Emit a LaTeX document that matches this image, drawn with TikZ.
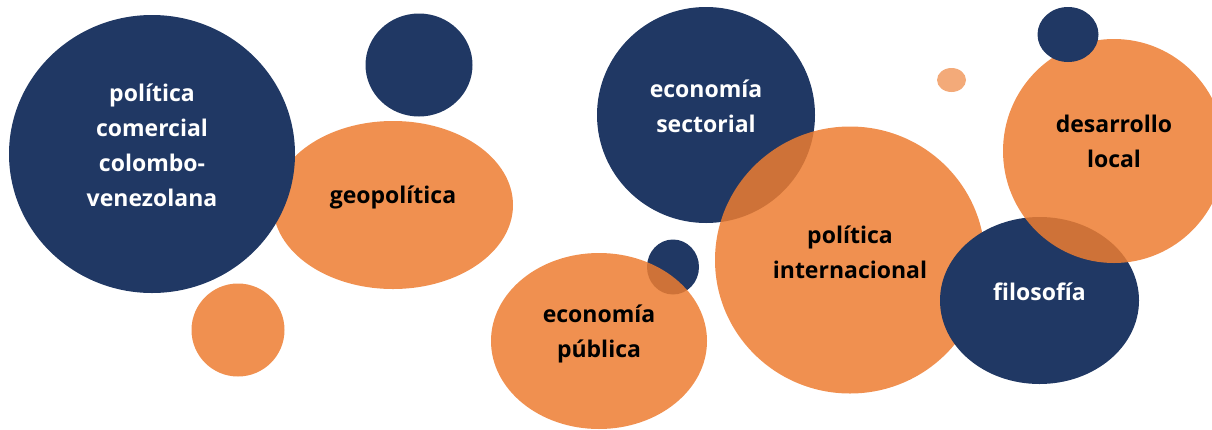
\documentclass[tikz,border=0pt]{standalone}
\usepackage{fontspec}
\setmainfont{Open Sans}
\usetikzlibrary{shapes.geometric}
\definecolor{navy}{HTML}{203864}
\definecolor{naranja}{HTML}{ED7D31}
\begin{document}
\begin{tikzpicture}[
		x=1pt, y=-1pt,
		bubble/.style={ellipse, draw=none, inner sep=0pt},
		navybubble/.style={bubble, fill=navy},
		orangebubble/.style={bubble, fill=naranja, fill opacity=0.85},
		lightbubble/.style={bubble, fill=naranja, fill opacity=0.65},
		bubbletext/.style={align=center, font=\fontsize{23}{35}\selectfont\bfseries, inner sep=0pt},
		whitetext/.style={bubbletext, text=white},
		blacktext/.style={bubbletext, text=black}
	]
	\useasboundingbox (0,0) rectangle (1212,429);
	% left group
	\node[orangebubble, minimum width=240, minimum height=168] (geopolitica) at (393,205) {};
	\node[navybubble, minimum width=286, minimum height=278] (comercial) at (152,154) {};
	\node[navybubble, minimum width=107, minimum height=103] (puntoA) at (419,65) {};
	\node[orangebubble, minimum width=93, minimum height=93] (puntoB) at (238,330) {};
	% middle group
	\node[navybubble, minimum width=218, minimum height=216] (sectorial) at (706,115) {};
	\node[orangebubble, minimum width=270, minimum height=267] (internacional) at (850,260) {};
	\node[navybubble, minimum width=52, minimum height=55] (puntoC) at (673,267) {};
	\node[orangebubble, minimum width=216, minimum height=176] (publica) at (599,341) {};
	% right group
	\node[navybubble, minimum width=199, minimum height=167] (filosofia) at (1039.5,300.5) {};
	\node[orangebubble, minimum width=222, minimum height=224] (desarrollo) at (1114,151) {};
	\node[navybubble, minimum width=61, minimum height=55] (puntoD) at (1068,34.5) {};
	\node[lightbubble, minimum width=29, minimum height=24] (puntoE) at (951.5,80) {};
	% labels
	\node[whitetext] (tcomercial) at ([yshift=9pt]comercial.center) {política\\comercial\\colombo-\\venezolana};
	\node[blacktext] (tgeopolitica) at ([yshift=8pt]geopolitica.center) {geopolítica};
	\node[whitetext] (tsectorial) at ([yshift=9pt]sectorial.center) {economía\\sectorial};
	\node[blacktext] (tinternacional) at ([yshift=8pt]internacional.center) {política\\internacional};
	\node[blacktext] (tpublica) at ([yshift=7pt]publica.center) {economía\\pública};
	\node[whitetext] (tfilosofia) at ([yshift=9pt]filosofia.center) {filosofía};
	\node[blacktext] (tdesarrollo) at ([yshift=10pt]desarrollo.center) {desarrollo\\local};
\end{tikzpicture}
\end{document}
